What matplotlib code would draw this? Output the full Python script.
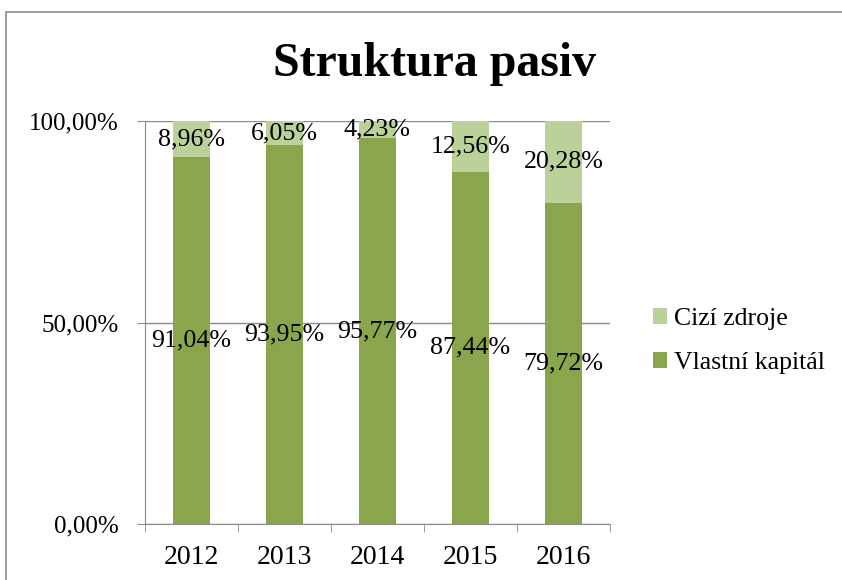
import matplotlib.pyplot as plt
from matplotlib.patches import Rectangle
from matplotlib.ticker import FixedLocator

years = ["2012", "2013", "2014", "2015", "2016"]
vlastni_kapital = [91.04, 93.95, 95.77, 87.44, 79.72]
cizi_zdroje = [8.96, 6.05, 4.23, 12.56, 20.28]
y_ticks = [0, 50, 100]
y_tick_labels = ["0,00%", "50,00%", "100,00%"]

DARK = "#8AA64C"
LIGHT = "#BAD199"
GREY = "#8C8C8C"

plt.rcParams["font.family"] = ["Liberation Serif", "DejaVu Serif"]

fig = plt.figure(figsize=(8.42, 5.80), dpi=100)
# chart border (Excel chart area)
fig.patches.append(Rectangle((6 / 842, -0.1), 2, 1 - 12 / 580 + 0.1, transform=fig.transFigure,
                             fill=False, edgecolor=GREY, linewidth=1.2))

ax = fig.add_axes([145 / 842, 1 - 524 / 580, 465 / 842, 403 / 580])
x = range(len(years))
b1 = ax.bar(x, vlastni_kapital, width=0.4, color=DARK, label="Vlastní kapitál", zorder=3)
b2 = ax.bar(x, cizi_zdroje, width=0.4, bottom=vlastni_kapital, color=LIGHT, label="Cizí zdroje", zorder=3)

def fmt(v):
    return f"{v:.2f}".replace(".", ",") + "%"

ax.bar_label(b1, labels=[fmt(v) for v in vlastni_kapital], label_type="center", fontsize=18.7)
ax.bar_label(b2, labels=[fmt(v) for v in cizi_zdroje], label_type="center", fontsize=18.7)

ax.set_xlim(-0.5, len(years) - 0.5)
ax.set_ylim(0, 100)
ax.set_xticks(list(x))
ax.set_xticklabels(years, fontsize=20)
ax.xaxis.set_minor_locator(FixedLocator([i - 0.5 for i in range(len(years) + 1)]))
ax.tick_params(axis="x", which="major", length=0, pad=15)
ax.tick_params(axis="x", which="minor", length=6, color=GREY, direction="out")
ax.set_yticks(y_ticks)
ax.set_yticklabels(y_tick_labels, fontsize=18)
ax.tick_params(axis="y", length=6, color=GREY, direction="out", pad=13)
ax.grid(axis="y", color=GREY, linewidth=1, zorder=0)
for s in ["top", "right"]:
    ax.spines[s].set_visible(False)
for s in ["left", "bottom"]:
    ax.spines[s].set_color(GREY)

fig.text(434 / 842, 1 - 64 / 580, "Struktura pasiv", ha="center", va="center",
         fontsize=34.5, fontweight="bold")

handles = [b2, b1]
fig.legend(handles, ["Cizí zdroje", "Vlastní kapitál"], loc="center left",
           bbox_to_anchor=(653 / 842, 1 - 341 / 580), frameon=False, fontsize=18.5,
           borderpad=0, borderaxespad=0,
           handlelength=0.55, handleheight=0.55, handletextpad=0.25, labelspacing=0.85)

fig.savefig("out.png", dpi=100)
